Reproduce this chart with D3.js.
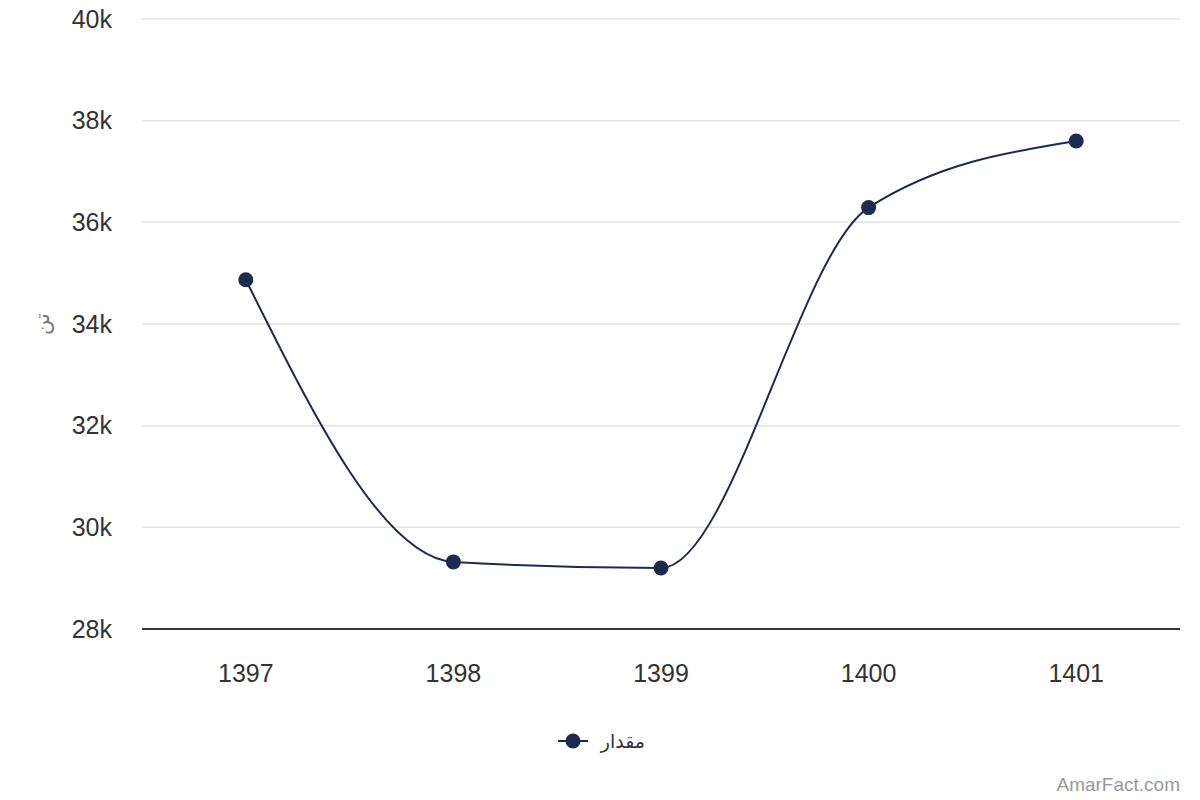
<!DOCTYPE html>
<html>
<head>
<meta charset="utf-8">
<script src="https://cdn.jsdelivr.net/npm/d3@7"></script>
<style>
  body { margin: 0; background: #fff; }
  svg { display: block; font-family: "Liberation Sans", Arial, sans-serif; }
</style>
</head>
<body>
<svg id="chart" width="1200" height="800"></svg>
<script>
const years = ["1397", "1398", "1399", "1400", "1401"];
const values = [34870, 29320, 29200, 36290, 37600];
const yTicks = [28000, 30000, 32000, 34000, 36000, 38000, 40000];
const seriesName = "مقدار";
const yTitle = "تن";

const width = 1200;
const height = 800;
const lineColor = "#1c2a4f";

const svg = d3.select("#chart");

const x = d3.scalePoint().domain(years).range([142, 1180]).padding(0.5);
const y = d3.scaleLinear().domain([28000, 40000]).range([629, 19]);

// Grid lines
svg.append("g")
    .selectAll("line")
    .data(yTicks.slice(1))
    .enter()
    .append("line")
    .attr("x1", 142)
    .attr("x2", 1180)
    .attr("y1", d => y(d))
    .attr("y2", d => y(d))
    .attr("stroke", "#e3e3e3")
    .attr("stroke-width", 1.5);

// Y axis labels
svg.append("g")
    .selectAll("text")
    .data(yTicks)
    .enter()
    .append("text")
    .attr("x", 112)
    .attr("y", d => y(d))
    .attr("dy", "0.35em")
    .attr("text-anchor", "end")
    .attr("fill", "#333")
    .style("font-size", "25px")
    .text(d => (d / 1000) + "k");

// Y title
svg.append("text")
    .attr("transform", `translate(42, ${y(34000)}) rotate(-90)`)
    .attr("text-anchor", "middle")
    .attr("dy", "0.35em")
    .attr("fill", "#777")
    .style("font-size", "21px")
    .style("font-family", "'Noto Sans', 'DejaVu Sans', sans-serif")
    .text(yTitle);

// X axis line
svg.append("line")
    .attr("x1", 142)
    .attr("x2", 1180)
    .attr("y1", y(28000))
    .attr("y2", y(28000))
    .attr("stroke", "#333")
    .attr("stroke-width", 2);

// X labels
svg.append("g")
    .selectAll("text")
    .data(years)
    .enter()
    .append("text")
    .attr("x", d => x(d))
    .attr("y", 673)
    .attr("dy", "0.35em")
    .attr("text-anchor", "middle")
    .attr("fill", "#333")
    .style("font-size", "25px")
    .text(d => d);

// Line
const pts = years.map((d, i) => [x(d), y(values[i])]);
svg.append("path")
    .attr("d", d3.line().curve(d3.curveMonotoneX)(pts))
    .attr("fill", "none")
    .attr("stroke", lineColor)
    .attr("stroke-width", 2);

svg.append("g")
    .selectAll("circle")
    .data(pts)
    .enter()
    .append("circle")
    .attr("cx", d => d[0])
    .attr("cy", d => d[1])
    .attr("r", 7.5)
    .attr("fill", lineColor);

// Legend
const lg = svg.append("g").attr("transform", "translate(0, 741)");
lg.append("line")
    .attr("x1", 558).attr("x2", 588)
    .attr("stroke", lineColor).attr("stroke-width", 2);
lg.append("circle")
    .attr("cx", 573).attr("r", 7.5).attr("fill", lineColor);
lg.append("text")
    .attr("x", 645)
    .attr("dy", "0.35em")
    .attr("text-anchor", "end")
    .attr("fill", "#333")
    .style("font-size", "19px")
    .style("font-family", "'Noto Sans', 'DejaVu Sans', sans-serif")
    .text(seriesName);

// Watermark
svg.append("text")
    .attr("x", 1180)
    .attr("y", 784)
    .attr("dy", "0.35em")
    .attr("text-anchor", "end")
    .attr("fill", "#999")
    .style("font-size", "19px")
    .text("AmarFact.com");
</script>
</body>
</html>
